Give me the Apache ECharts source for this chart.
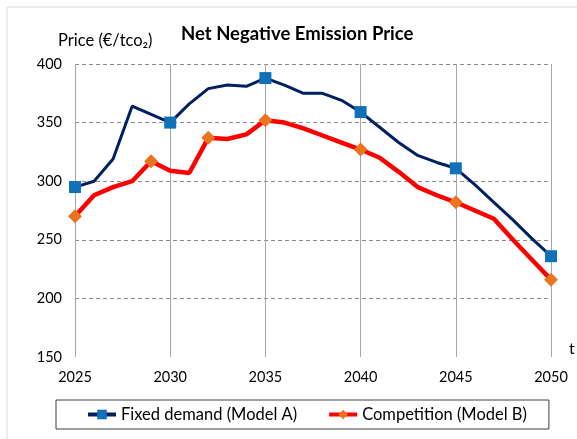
<!DOCTYPE html>
<html>
<head>
<meta charset="utf-8">
<script src="https://cdn.jsdelivr.net/npm/echarts@6/dist/echarts.min.js"></script>
<style>
  html, body { margin: 0; padding: 0; background: #fff; }
  #chart { width: 577px; height: 439px; }
</style>
</head>
<body>
<div id="chart"></div>
<script>
// yearly values
var years = [2025, 2026, 2027, 2028, 2029, 2030, 2031, 2032, 2033, 2034, 2035, 2036, 2037,
    2038, 2039, 2040, 2041, 2042, 2043, 2044, 2045, 2046, 2047, 2048, 2049, 2050];
var fixedDemand = [295, 300, 319, 364, 357, 350, 366, 379, 382, 381, 388, 382, 375,
    375, 369, 359, 346, 333, 322, 316, 311, 297, 282, 267, 251, 236];
var competition = [270, 288, 295, 300, 317, 309, 307, 337, 336, 340, 352, 350, 345,
    339, 333, 327, 320, 308, 295, 288, 282, 275, 268, 250, 233, 216];
var fixedMarkers = [2025, 2030, 2035, 2040, 2045, 2050];
var compMarkers = [2025, 2029, 2032, 2035, 2040, 2045, 2050];
var xTicks = [2025, 2030, 2035, 2040, 2045, 2050];

function buildData(values, markers, symbol) {
    return years.map(function (y, i) {
        return {value: [y, values[i]], symbol: markers.indexOf(y) >= 0 ? symbol : 'none'};
    });
}

var font = 'Lato, "Open Sans", sans-serif';
var chart = echarts.init(document.getElementById('chart'));

var option = {
    backgroundColor: '#fff',
    animation: false,
    textStyle: {fontFamily: font},
    title: [
        {
            text: 'Net Negative Emission Price',
            left: 176, top: 20,
            textStyle: {fontFamily: font, fontSize: 18.5, fontWeight: 'bold', color: '#000'}
        },
        {
            text: 'Price (€/tco₂)',
            left: 53, top: 27,
            textStyle: {fontFamily: font, fontSize: 16.5, fontWeight: 'normal', color: '#000'}
        },
        {
            text: 't',
            left: 564, top: 336,
            textStyle: {fontFamily: font, fontSize: 16, fontWeight: 'normal', color: '#000'}
        }
    ],
    graphic: [
        {
            type: 'polyline', silent: true,
            shape: {points: [[7, 439], [7, 7], [577, 7]]},
            style: {stroke: '#d9d9d9', lineWidth: 1, fill: null}
        }
    ],
    legend: {
        left: 56, top: 400,
        padding: [6, 22, 6, 30],
        borderColor: '#404040', borderWidth: 1,
        itemWidth: 28, itemHeight: 12, itemGap: 30,
        textStyle: {fontFamily: font, fontSize: 16.5, color: '#000'},
        data: [
            {name: 'Fixed demand (Model A)', lineStyle: {width: 4}},
            {name: 'Competition (Model B)', lineStyle: {width: 4}}
        ]
    },
    grid: {left: 75, right: 26, top: 64, bottom: 82},
    xAxis: {
        type: 'value', min: 2025, max: 2050, interval: 5,
        axisLine: {show: true, lineStyle: {color: '#fff', width: 1}},
        axisTick: {show: false},
        axisLabel: {color: '#000', fontSize: 14.5, margin: 13, fontFamily: font,
            formatter: function (v) { return xTicks.indexOf(v) >= 0 ? String(v) : ''; }},
        splitLine: {show: true, lineStyle: {color: '#a6a6a6', width: 1, type: 'solid'}}
    },
    yAxis: {
        type: 'value', min: 150, max: 400, interval: 50,
        axisLine: {show: false},
        axisTick: {show: false},
        axisLabel: {color: '#000', fontSize: 14.5, margin: 13, fontFamily: font},
        splitLine: {show: true, lineStyle: {color: '#8c8c8c', width: 1, type: [4, 3]}}
    },
    series: [
        {
            name: 'Fixed demand (Model A)',
            type: 'line',
            symbol: 'rect', symbolSize: 12, showAllSymbol: true,
            lineStyle: {color: '#002060', width: 3},
            itemStyle: {color: '#1270b8'},
            z: 3,
            data: buildData(fixedDemand, fixedMarkers, 'rect')
        },
        {
            name: 'Competition (Model B)',
            type: 'line',
            symbol: 'diamond', symbolSize: [14, 14], showAllSymbol: true,
            lineStyle: {color: '#ff0000', width: 4.5},
            itemStyle: {color: '#ea7420'},
            z: 2,
            data: buildData(competition, compMarkers, 'diamond')
        }
    ]
};

chart.setOption(option);
</script>
</body>
</html>
